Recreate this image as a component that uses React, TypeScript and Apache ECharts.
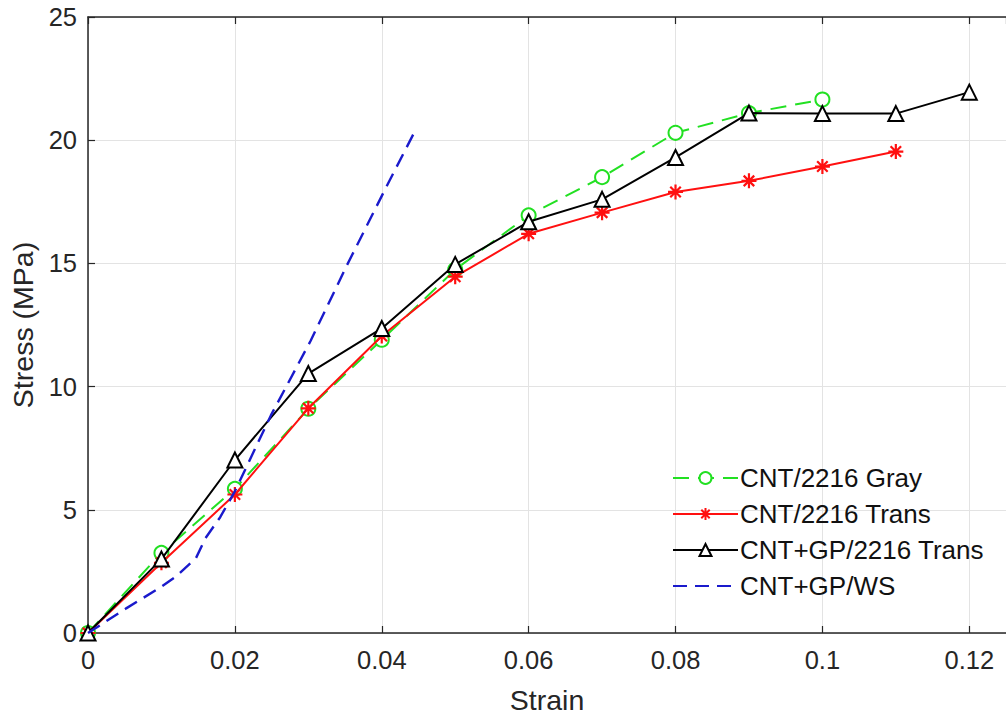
import React, { useEffect, useRef } from "react";
import * as echarts from "echarts";

const strainGray = [0, 0.01, 0.02, 0.03, 0.04, 0.05, 0.06, 0.07, 0.08, 0.09, 0.1];
const stressGray = [0, 3.25, 5.85, 9.1, 11.9, 14.75, 16.95, 18.5, 20.3, 21.1, 21.65];

const strainTrans = [0, 0.01, 0.02, 0.03, 0.04, 0.05, 0.06, 0.07, 0.08, 0.09, 0.1, 0.11];
const stressTrans = [0, 2.85, 5.62, 9.12, 12.05, 14.46, 16.2, 17.06, 17.9, 18.35, 18.93, 19.54];

const strainGP = [0, 0.01, 0.02, 0.03, 0.04, 0.05, 0.06, 0.07, 0.08, 0.09, 0.1, 0.11, 0.12];
const stressGP = [0, 3.0, 7.02, 10.53, 12.36, 14.96, 16.69, 17.6, 19.3, 21.1, 21.08, 21.08, 21.95];

const strainWS = [0, 0.0052, 0.0097, 0.012, 0.0147, 0.016, 0.018, 0.02, 0.0249, 0.0303, 0.0353, 0.0407, 0.0444];
const stressWS = [0, 1.0, 1.82, 2.3, 3.04, 3.85, 4.7, 5.75, 8.83, 11.85, 14.95, 18.15, 20.3];

const seriesNames = ["CNT/2216 Gray", "CNT/2216 Trans", "CNT+GP/2216 Trans", "CNT+GP/WS"];
const xTickInterval = 0.02;
const yTickInterval = 5;

const pairs = (xs: number[], ys: number[]) => xs.map((x, i) => [x, ys[i]]);

const FONT = "'Liberation Sans', Arial, Helvetica, sans-serif";
const AXIS_COLOR = "#262626";

export default function App() {
  const ref = useRef<HTMLDivElement>(null);
  useEffect(() => {
    if (!ref.current) return;
    const chart = echarts.init(ref.current, undefined, { renderer: "svg" });
    const axisCommon = {
      axisLine: { show: true, onZero: false, lineStyle: { color: AXIS_COLOR, width: 1.5 } },
      axisTick: { show: true, inside: true, length: 7, lineStyle: { color: AXIS_COLOR, width: 1.2 } },
    };
    chart.setOption({
      animation: false,
      backgroundColor: "#ffffff",
      textStyle: { fontFamily: FONT },
      grid: { left: 88, top: 17, right: -9, bottom: 84, containLabel: false },
      xAxis: [
        {
          type: "value",
          min: 0,
          max: 0.125,
          interval: xTickInterval,
          position: "bottom",
          ...axisCommon,
          axisLabel: {
            show: true,
            showMaxLabel: false,
            margin: 14,
            fontSize: 25.5,
            color: AXIS_COLOR,
            fontFamily: FONT,
            formatter: (v: number) => String(parseFloat(v.toFixed(4))),
          },
          splitLine: { show: true, lineStyle: { color: "#e3e3e3", width: 1 } },
          name: "Strain",
          nameLocation: "middle",
          nameGap: 52,
          nameTextStyle: { fontSize: 28.5, color: AXIS_COLOR, fontFamily: FONT },
        },
        {
          type: "value",
          min: 0,
          max: 0.125,
          interval: xTickInterval,
          position: "top",
          ...axisCommon,
          axisLabel: { show: false },
          splitLine: { show: false },
        },
      ],
      yAxis: [
        {
          type: "value",
          min: 0,
          max: 25,
          interval: yTickInterval,
          ...axisCommon,
          axisLabel: { margin: 11, fontSize: 25.5, color: AXIS_COLOR, fontFamily: FONT },
          splitLine: { show: true, lineStyle: { color: "#e3e3e3", width: 1 } },
          name: "Stress (MPa)",
          nameLocation: "middle",
          nameGap: 46,
          nameTextStyle: { fontSize: 28.5, color: AXIS_COLOR, fontFamily: FONT },
        },
      ],
      legend: {
        orient: "vertical",
        left: 667,
        top: 460,
        itemWidth: 65,
        itemHeight: 15,
        itemGap: 10,
        data: [
          seriesNames[0],
          seriesNames[1],
          seriesNames[2],
          { name: seriesNames[3], itemStyle: { opacity: 0 } },
        ],
        textStyle: { fontSize: 26, color: "#111", fontFamily: FONT, lineHeight: 25, padding: [0, 0, 0, -3] },
      },
      series: [
        {
          name: seriesNames[0],
          type: "line",
          data: pairs(strainGray, stressGray),
          symbol: "emptyCircle",
          symbolSize: 14,
          lineStyle: { color: "#22e022", width: 2, type: [16, 9] },
          itemStyle: { color: "#22e022", borderColor: "#22e022", borderWidth: 2 },
          z: 2,
        },
        {
          name: seriesNames[1],
          type: "line",
          data: pairs(strainTrans, stressTrans),
          symbol: "path://M10,0L10,20M0,10L20,10M3,3L17,17M3,17L17,3",
          symbolSize: 15,
          lineStyle: { color: "#ff1010", width: 2 },
          itemStyle: { color: "#ff1010", borderColor: "#ff1010", borderWidth: 2.2 },
          z: 3,
        },
        {
          name: seriesNames[2],
          type: "line",
          data: pairs(strainGP, stressGP),
          symbol: "emptyTriangle",
          symbolSize: 15,
          lineStyle: { color: "#000000", width: 2 },
          itemStyle: { color: "#000000", borderColor: "#000000", borderWidth: 2 },
          z: 4,
        },
        {
          name: seriesNames[3],
          type: "line",
          data: pairs(strainWS, stressWS),
          symbol: "none",
          lineStyle: { color: "#1a1acc", width: 2.4, type: [14, 8] },
          itemStyle: { color: "#1a1acc" },
          z: 5,
        },
      ],
    });
    return () => chart.dispose();
  }, []);
  return (
    <div
      ref={ref}
      style={{ position: "absolute", left: 0, top: 0, width: 1006, height: 719 }}
    />
  );
}
